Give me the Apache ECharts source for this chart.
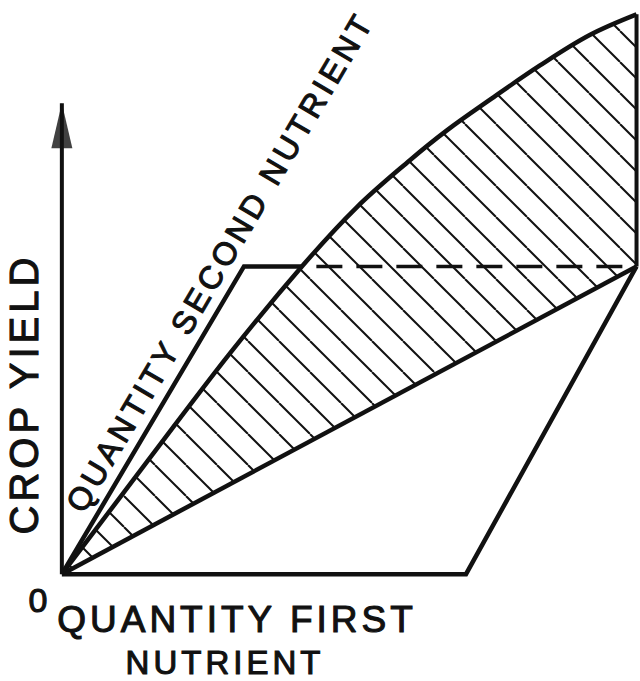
<!DOCTYPE html>
<html>
<head>
<meta charset="utf-8">
<script src="https://cdn.jsdelivr.net/npm/echarts@6/dist/echarts.min.js"></script>
<style>
html,body{margin:0;padding:0;background:#fff;}
#chart{width:640px;height:681px;letter-spacing:4px;}
</style>
</head>
<body>
<div id="chart"></div>
<script>
// ---- data (in diagram units) ----
const upperCurve = [[0,0],[15.2,20.2],[29.1,38.5],[41.7,53.8],[51.0,63.9],[60.2,72.1],[66.6,77.3],[74.0,82.6],[82.7,88.6],[91.3,93.9],[99.4,97.5]];
const lowerLine = [[0,0],[99.4,53.6]];
const firstNutrientPath = [[0,0],[69.9,0],[99.4,53.6]];
const secondNutrientPath = [[0,0],[31.5,53.6],[41.6,53.6]];
const dashedLevel = [[41.6,53.6],[99.4,53.6]];
const rightEdge = [[99.4,53.6],[99.4,97.5]];
const yieldAxis = [[0,0],[0,82.0]];
const originLabel = '0';
const xTitleLines = ['QUANTITY FIRST', 'NUTRIENT'];
const yTitle = 'CROP YIELD';
const diagTitle = 'QUANTITY SECOND NUTRIENT';

// ---- hatch pattern ----
function hatchPattern(){
  const T = 31;
  const c = document.createElement('canvas');
  c.width = T; c.height = T;
  const g = c.getContext('2d');
  g.strokeStyle = '#111'; g.lineWidth = 2;
  for (let k = -1; k <= 1; k++) {
    g.beginPath(); g.moveTo(k*T, 0); g.lineTo(k*T + T, T); g.stroke();
  }
  return {image: c.toDataURL(), repeat: 'repeat', imageWidth: T, imageHeight: T};
}

const INK = '#111';
const FONT = '"Liberation Sans", Arial, sans-serif';
function lineSeries(data, width, extra){
  return Object.assign({
    type: 'line', data: data, symbol: 'none', silent: true, z: 3,
    lineStyle: {color: INK, width: width, cap: 'butt', join: 'miter'}
  }, extra || {});
}
function txt(text, x, y, size, rot){
  return {type: 'text', x: x, y: y, rotation: rot || 0, silent: true,
    style: {text: text, font: size + 'px ' + FONT, fill: INK, stroke: INK, lineWidth: 1.1,
      align: 'center', verticalAlign: 'middle', textAlign: 'center', textVerticalAlign: 'middle'}};
}

const chart = echarts.init(document.getElementById('chart'), null, {renderer: 'svg'});
chart.setOption({
  animation: false,
  backgroundColor: '#fff',
  grid: {left: 0, right: 0, top: 0, bottom: 0},
  xAxis: {type: 'value', min: -10.7, max: 100, show: false},
  yAxis: {type: 'value', min: -18.6, max: 100, show: false},
  series: [
    lineSeries(upperCurve, 4.5, {z: 1, smooth: 0.35,
      areaStyle: {color: hatchPattern(), opacity: 1}}),
    {type: 'custom', silent: true, z: 2, data: [[0,0]],
      renderItem: function(params, api){
        const pts = [lowerLine[0], lowerLine[1], [lowerLine[1][0], 0]].map(p => api.coord(p));
        return {type: 'polygon', shape: {points: pts}, style: {fill: '#fff', stroke: '#fff', lineWidth: 3}};
      }},
    lineSeries(lowerLine, 4.5),
    lineSeries(firstNutrientPath, 4.5),
    lineSeries(secondNutrientPath, 4.5),
    lineSeries(dashedLevel, 3.5, {lineStyle: {color: INK, width: 3.5, type: [26, 14], dashOffset: 26}}),
    lineSeries(rightEdge, 4),
    lineSeries(yieldAxis, 4),
    {type: 'scatter', silent: true, z: 5, data: [yieldAxis[1]], symbol: 'triangle',
      symbolSize: [21, 45], symbolOffset: [0, '50%'], itemStyle: {color: INK}}
  ],
  graphic: [
    txt(originLabel, 40, 600, 34),
    txt(xTitleLines[0], 237, 619, 37),
    txt(xTitleLines[1], 225, 662, 33),
    txt(yTitle, 24, 394, 40, Math.PI/2),
    txt(diagTitle, 220, 262, 32, 59.5*Math.PI/180)
  ]
});
</script>
</body>
</html>
